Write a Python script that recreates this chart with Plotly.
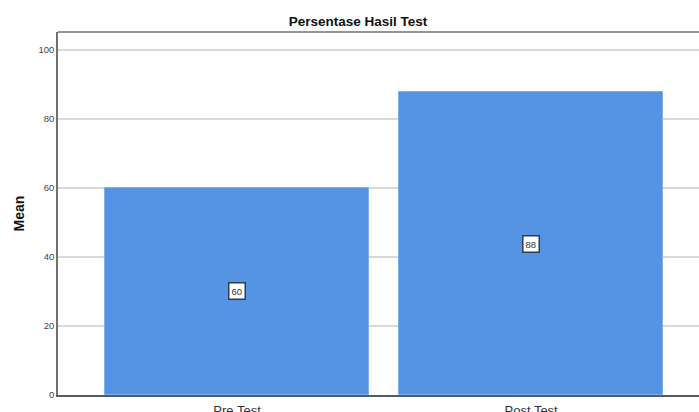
import plotly.graph_objects as go

categories = ["Pre Test", "Post Test"]
means = [60.0, 87.7]
labels = ["60", "88"]
y_ticks = [0, 20, 40, 60, 80, 100]

fig = go.Figure()
fig.add_trace(go.Bar(
    x=categories, y=means, width=0.898,
    marker=dict(color="#5594e3", line=dict(color="#7fb0ee", width=1)),
    hoverinfo="x+y",
))

for c, v, t in zip(categories, means, labels):
    fig.add_annotation(
        x=c, y=v / 2, text=t, showarrow=False,
        font=dict(family="Liberation Sans, Arial", size=9.5, color="#333333"),
        bgcolor="white", bordercolor="#2e3b50", borderwidth=1.5, borderpad=2,
    )

fig.update_layout(
    width=699, height=412,
    margin=dict(l=58, r=0, t=32, b=17, autoexpand=False),
    paper_bgcolor="white", plot_bgcolor="white",
    showlegend=False,
    bargap=0,
    title=dict(text="<b>Persentase Hasil Test</b>", x=358 / 699, xanchor="center",
               y=1 - 21 / 412, yanchor="middle",
               font=dict(family="Liberation Sans, Arial", size=13.5, color="#111111")),
    font=dict(family="Liberation Sans, Arial"),
)
fig.update_xaxes(
    range=[-0.609, 1.571], showgrid=False,
    ticks="outside", ticklen=3, tickcolor="rgba(0,0,0,0)",
    showline=True, linecolor="#555a66", linewidth=1.5,
    tickfont=dict(size=13, color="#333333"),
    automargin=False, fixedrange=True,
)
fig.update_yaxes(
    range=[0, 105.2], tickvals=y_ticks, ticks="",
    showgrid=True, gridcolor="#d9d9d9", gridwidth=1.5,
    zeroline=False,
    showline=True, linecolor="#707070", linewidth=1.5,
    tickfont=dict(size=9.5, color="#444444"),
    title=dict(text="<b>Mean</b>", font=dict(size=14, color="#111111"), standoff=11),
    automargin=False, fixedrange=True,
)
# top frame line
fig.add_shape(type="line", xref="paper", yref="paper", x0=0, x1=1, y0=1, y1=1,
              line=dict(color="#707070", width=1.5))

fig.write_html(
    "out.html",
    config={"displayModeBar": False},
    post_script="document.body.style.margin='0';document.body.style.overflow='hidden';",
)
